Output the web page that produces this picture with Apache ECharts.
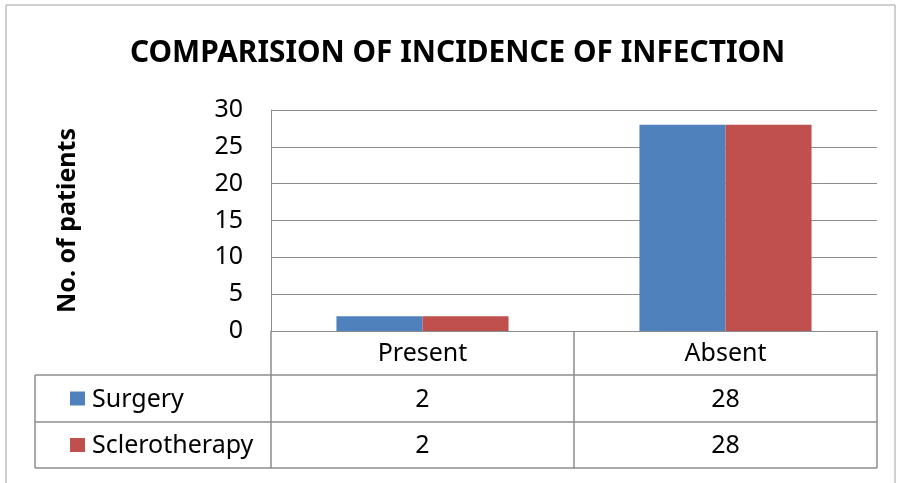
<!DOCTYPE html>
<html>
<head>
<meta charset="utf-8">
<script src="https://cdn.jsdelivr.net/npm/echarts@6/dist/echarts.min.js"></script>
<style>
*{margin:0;padding:0;}
body{background:#fff;}
#chart{width:899px;height:483px;}
</style>
</head>
<body>
<div id="chart"></div>
<script>
var categories = ['Present', 'Absent']
var seriesNames = ['Surgery', 'Sclerotherapy']
var surgery = [2, 28]
var sclerotherapy = [2, 28]
var colors = ['#4F81BD', '#C0504D']

var font = 'Noto Sans'
var lineColor = '#8c8c8c'
var plotLeft = 271, plotRight = 877, plotTop = 110, plotBottom = 331
var tableLeft = 35, rowH = [44, 47, 46]

var chart = echarts.init(document.getElementById('chart'))
var option = {
  animation: false,
  title: {
    text: 'COMPARISION OF INCIDENCE OF INFECTION',
    left: 125,
    top: 34,
    textStyle: { fontFamily: font, fontWeight: 'bold', fontSize: 29.8, color: '#000' }
  },
  grid: { left: plotLeft, right: 899 - plotRight, top: plotTop, bottom: 483 - plotBottom },
  xAxis: {
    type: 'category',
    data: categories,
    axisLine: { lineStyle: { color: lineColor } },
    axisTick: { show: false },
    axisLabel: { show: false }
  },
  yAxis: {
    type: 'value',
    min: 0, max: 30, interval: 5,
    name: 'No. of patients',
    nameLocation: 'middle',
    nameGap: 191,
    nameRotate: 90,
    nameTextStyle: { fontFamily: font, fontWeight: 'bold', fontSize: 25, color: '#000' },
    axisLine: { show: true, lineStyle: { color: lineColor } },
    axisTick: { show: false },
    axisLabel: { fontFamily: font, fontSize: 25, color: '#000', margin: 28 },
    splitLine: { lineStyle: { color: lineColor } }
  },
  series: [
    { name: seriesNames[0], type: 'bar', data: surgery, barWidth: '28.4%', barGap: '0%', itemStyle: { color: colors[0] } },
    { name: seriesNames[1], type: 'bar', data: sclerotherapy, barWidth: '28.4%', barGap: '0%', itemStyle: { color: colors[1] } }
  ]
}
chart.setOption(option)

// data table under the plot
var y0 = plotBottom, y1 = y0 + rowH[0], y2 = y1 + rowH[1], y3 = y2 + rowH[2]
var mid = chart.convertToPixel({ xAxisIndex: 0 }, categories[0]) + (chart.convertToPixel({ xAxisIndex: 0 }, categories[1]) - chart.convertToPixel({ xAxisIndex: 0 }, categories[0])) / 2
var ls = { stroke: lineColor, lineWidth: 1.5 }
var g = []
function line(x1, yA, x2, yB) {
  g.push({ type: 'line', shape: { x1: x1, y1: yA, x2: x2, y2: yB }, style: ls })
}
line(plotLeft, y0, plotLeft, y3)
line(mid, y0, mid, y3)
line(plotRight, y0, plotRight, y3)
line(tableLeft, y1, tableLeft, y3)
line(tableLeft, y1, plotRight, y1)
line(tableLeft, y2, plotRight, y2)
line(tableLeft, y3, plotRight, y3)
// outer frame
g.push({ type: 'rect', shape: { x: 6, y: 5, width: 889, height: 490 }, style: { fill: null, stroke: '#a0a0a0', lineWidth: 1 } })

var txt = { fontFamily: font, fontSize: 25, fill: '#000', align: 'center', verticalAlign: 'middle' }
categories.forEach(function (c, i) {
  var cx = chart.convertToPixel({ xAxisIndex: 0 }, c)
  g.push({ type: 'text', x: cx, y: (y0 + y1) / 2 + 1, style: Object.assign({ text: c }, txt) })
  g.push({ type: 'text', x: cx, y: (y1 + y2) / 2 + 1, style: Object.assign({ text: String(surgery[i]) }, txt) })
  g.push({ type: 'text', x: cx, y: (y2 + y3) / 2 + 1, style: Object.assign({ text: String(sclerotherapy[i]) }, txt) })
})
seriesNames.forEach(function (n, i) {
  var cy = i === 0 ? (y1 + y2) / 2 : (y2 + y3) / 2
  g.push({ type: 'rect', shape: { x: 70, y: cy - 7, width: 15, height: 14 }, style: { fill: colors[i] } })
  g.push({ type: 'text', x: 92, y: cy + 1, style: Object.assign({ text: n }, txt, { align: 'left' }) })
})
chart.setOption({ graphic: g })
</script>
</body>
</html>
